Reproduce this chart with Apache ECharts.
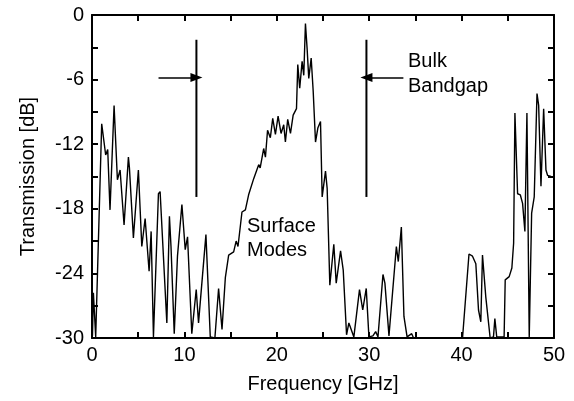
<!DOCTYPE html>
<html>
<head>
<meta charset="utf-8">
<script src="https://cdn.jsdelivr.net/npm/echarts@6/dist/echarts.min.js"></script>
<style>
html,body{margin:0;padding:0;background:#fff;}
#chart{width:574px;height:401px;}
</style>
</head>
<body>
<div id="chart"></div>
<script>
// Frequency in GHz
var freq = [0.05,0.15,0.4,1.05,1.48,1.7,1.95,2.39,2.75,3.04,3.47,3.94,4.05,4.48,5.02,5.39,5.75,6.18,6.4,6.65,7.19,7.37,8.1,8.38,8.55,8.9,9.25,9.73,10.09,10.34,10.8,11.28,11.53,12.33,12.8,13.3,13.7,14.07,14.43,14.79,15.33,15.6,15.8,16.23,16.6,16.95,17.5,18.04,18.2,18.58,18.77,19.0,19.3,19.56,19.85,20.14,20.46,20.75,20.93,21.18,21.48,21.77,22.13,22.27,22.48,22.74,22.92,23.1,23.28,23.46,23.72,23.94,24.19,24.44,24.73,24.91,25.27,25.45,25.74,26.17,26.43,26.9,27.19,27.55,27.8,28.0,28.34,28.95,29.3,29.68,29.97,30.4,30.7,30.95,31.49,31.7,32.14,32.94,33.15,33.48,33.76,34.1,34.6,34.8,40.1,40.8,41.18,41.54,41.83,42.08,42.26,42.62,43.09,43.45,43.6,43.8,44.6,44.72,45.15,45.44,45.63,45.77,46.06,46.35,46.6,46.85,47.07,47.32,47.58,47.86,48.16,48.34,48.59,48.88,49.13,49.31,49.67];
// Transmission in dB
var transmission = [-29.8,-25.8,-29.9,-10.1,-13.0,-12.5,-18.1,-8.4,-15.3,-14.4,-19.5,-13.2,-14.2,-20.7,-14.4,-21.5,-18.9,-23.8,-20.1,-29.9,-16.6,-16.4,-28.6,-18.7,-21.5,-29.6,-22.4,-17.6,-21.8,-20.6,-29.6,-25.5,-28.6,-20.4,-29.9,-30,-25.4,-29.2,-24.4,-22.3,-22.0,-21.0,-21.5,-18.3,-18.1,-16.7,-15.2,-13.9,-14.2,-12.4,-13.2,-10.7,-11.4,-9.6,-11.1,-9.4,-11.0,-10.2,-11.8,-9.7,-11.0,-9.3,-8.7,-4.6,-6.8,-4.3,-5.6,-0.8,-3.1,-5.9,-4.0,-7.1,-11.8,-10.5,-9.9,-16.9,-14.5,-16.1,-25.1,-21.3,-24.9,-21.9,-23.7,-29.7,-28.6,-28.7,-29.9,-25.5,-27.4,-25.4,-29.9,-29.8,-29.4,-29.9,-24.1,-24.9,-29.8,-21.5,-22.9,-19.7,-28.0,-29.9,-29.6,-30,-30,-22.2,-22.4,-23.1,-27.4,-28.5,-22.3,-26.2,-30,-29.9,-28.2,-29.9,-29.9,-24.6,-24.3,-23.5,-21.2,-9.1,-16.6,-16.7,-17.5,-20.1,-9.1,-29.9,-18.4,-16.9,-7.3,-8.4,-15.9,-8.7,-14.4,-14.9,-15.0];

// Annotation geometry (data units)
var bandgapEdges = [11.3, 29.7];          // GHz, vertical marker lines
var markerTopBottom = [-2.3, -16.9];      // dB span of the marker lines
var arrowLevel = -5.8;                    // dB
var arrowTails = [7.2, 33.7];             // GHz, arrow start points

var xTicks = [0, 10, 20, 30, 40, 50];
var yTicks = [0, -6, -12, -18, -24, -30];

var FONT = 'Liberation Sans, Arial, sans-serif';

var seriesData = freq.map(function (f, i) { return [f, transmission[i]]; });

var chart = echarts.init(document.getElementById('chart'), null, {renderer: 'canvas'});

function xAxisCfg(pos, showLabel) {
  return {
    type: 'value', min: 0, max: 50, interval: 5, position: pos,
    axisLine: {show: true, onZero: false, lineStyle: {color: '#000', width: 2}},
    axisTick: {show: true, inside: true, length: 6, lineStyle: {color: '#000', width: 2}},
    axisLabel: {
      show: showLabel, margin: 7, color: '#000', fontSize: 20, fontFamily: FONT,
      formatter: function (v) { return xTicks.indexOf(v) >= 0 ? String(v) : ''; }
    },
    splitLine: {show: false}
  };
}
function yAxisCfg(pos, showLabel) {
  return {
    type: 'value', min: -30, max: 0, interval: 3, position: pos,
    axisLine: {show: true, onZero: false, lineStyle: {color: '#000', width: 2}},
    axisTick: {show: true, inside: true, length: 6, lineStyle: {color: '#000', width: 2}},
    axisLabel: {
      show: showLabel, margin: 8, color: '#000', fontSize: 20, fontFamily: FONT,
      formatter: function (v) { return yTicks.indexOf(v) >= 0 ? String(v) : ''; }
    },
    splitLine: {show: false}
  };
}

var xb = xAxisCfg('bottom', true);
xb.name = 'Frequency [GHz]';
xb.nameLocation = 'middle';
xb.nameGap = 36;
xb.nameTextStyle = {color: '#000', fontSize: 20, fontFamily: FONT};
var yl = yAxisCfg('left', true);
yl.name = 'Transmission [dB]';
yl.nameLocation = 'middle';
yl.nameGap = 54;
yl.nameTextStyle = {color: '#000', fontSize: 20, fontFamily: FONT};

var option = {
  animation: false,
  backgroundColor: '#fff',
  grid: {left: 92, right: 20, top: 15, bottom: 63, containLabel: false},
  xAxis: [xb, xAxisCfg('top', false)],
  yAxis: [yl, yAxisCfg('right', false)],
  series: [
    {
      type: 'line', data: seriesData, showSymbol: false, symbol: 'none',
      lineStyle: {color: '#000', width: 1.4}, z: 3,
      markLine: {
        silent: true, symbol: ['none', 'triangle'], symbolSize: [9, 12],
        label: {show: false},
        lineStyle: {color: '#000', width: 1.6, type: 'solid'},
        data: [
          [{coord: [arrowTails[0], arrowLevel]}, {coord: [bandgapEdges[0], arrowLevel]}],
          [{coord: [arrowTails[1], arrowLevel]}, {coord: [bandgapEdges[1], arrowLevel]}]
        ]
      }
    },
    {
      type: 'line', showSymbol: false, symbol: 'none',
      data: [[bandgapEdges[0], markerTopBottom[0]], [bandgapEdges[0], markerTopBottom[1]]],
      lineStyle: {color: '#000', width: 2}, z: 4
    },
    {
      type: 'line', showSymbol: false, symbol: 'none',
      data: [[bandgapEdges[1], markerTopBottom[0]], [bandgapEdges[1], markerTopBottom[1]]],
      lineStyle: {color: '#000', width: 2}, z: 4
    }
  ],
  graphic: [
    {type: 'text', left: 408, top: 51, style: {text: 'Bulk', fill: '#000', font: '20px ' + FONT}},
    {type: 'text', left: 408, top: 76, style: {text: 'Bandgap', fill: '#000', font: '20px ' + FONT}},
    {type: 'text', left: 247, top: 216, style: {text: 'Surface', fill: '#000', font: '20px ' + FONT}},
    {type: 'text', left: 247, top: 240, style: {text: 'Modes', fill: '#000', font: '20px ' + FONT}}
  ]
};
chart.setOption(option);
</script>
</body>
</html>
